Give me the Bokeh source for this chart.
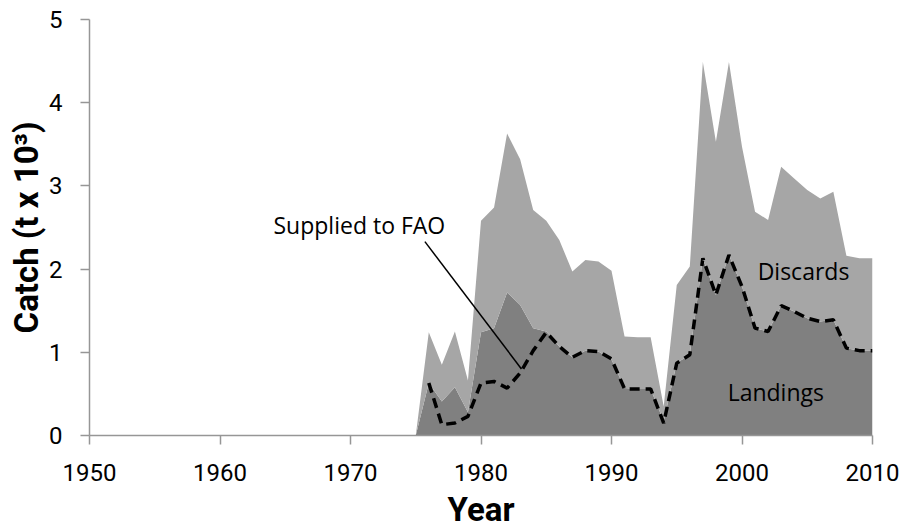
from bokeh.plotting import figure
from bokeh.models import Range1d, FixedTicker, Label, ColumnDataSource
from bokeh.embed import file_html
from bokeh.resources import INLINE

# ---- data (t x 10^3) ----
years = list(range(1975, 2011))
landings = [0.00, 0.63, 0.41, 0.58, 0.28, 1.24, 1.29, 1.72, 1.57, 1.29,
            1.25, 1.07, 0.94, 1.02, 1.01, 0.91, 0.57, 0.56, 0.56, 0.17,
            0.87, 0.97, 2.13, 1.69, 2.17, 1.79, 1.29, 1.25, 1.56, 1.49,
            1.41, 1.37, 1.39, 1.05, 1.02, 1.02]
discards = [0.00, 0.61, 0.44, 0.67, 0.38, 1.34, 1.45, 1.91, 1.75, 1.42,
            1.33, 1.28, 1.03, 1.09, 1.08, 1.07, 0.62, 0.62, 0.62, 0.18,
            0.94, 1.06, 2.36, 1.84, 2.32, 1.68, 1.40, 1.34, 1.67, 1.60,
            1.54, 1.48, 1.54, 1.11, 1.11, 1.11]
fao_years = list(range(1976, 2011))
fao = [0.63, 0.13, 0.15, 0.23, 0.63, 0.65, 0.57, 0.75, 1.02, 1.24,
       1.07, 0.94, 1.02, 1.01, 0.92, 0.56, 0.56, 0.56, 0.15, 0.87,
       0.97, 2.13, 1.69, 2.17, 1.79, 1.29, 1.25, 1.56, 1.49, 1.41,
       1.37, 1.39, 1.05, 1.02, 1.02]
x_ticks = [1950, 1960, 1970, 1980, 1990, 2000, 2010]
y_ticks = [0, 1, 2, 3, 4, 5]

src = ColumnDataSource(dict(year=years, landings=landings, discards=discards))

p = figure(width=900, height=531, output_backend="svg", toolbar_location=None,
           x_range=Range1d(1950, 2010), y_range=Range1d(0, 5),
           min_border_left=89, min_border_right=28, min_border_top=19,
           min_border_bottom=95)

p.varea_stack(["landings", "discards"], x="year", source=src,
              color=["#808080", "#a6a6a6"])
p.line(fao_years, fao, line_color="black", line_width=3.5, line_dash="10 6")

# annotation leader line
p.segment(x0=[1975.7], y0=[2.33], x1=[1983.1], y1=[0.80],
          line_color="black", line_width=1.5)

ann_font = "Open Sans"
for txt, x, y in [("Supplied to FAO", 1964.1, 2.53),
                  ("Discards", 2001.2, 1.975),
                  ("Landings", 1998.9, 0.525)]:
    p.add_layout(Label(x=x, y=y, text=txt, text_font=ann_font,
                       text_font_size="23px", text_color="black",
                       text_align="left", text_baseline="middle"))

p.grid.visible = False
p.outline_line_color = None
p.background_fill_color = "white"
p.border_fill_color = "white"

for ax in (p.xaxis, p.yaxis):
    ax.axis_line_color = "#969696"
    ax.axis_line_width = 1.5
    ax.major_tick_line_color = "#969696"
    ax.major_tick_line_width = 1.5
    ax.major_tick_in = 0
    ax.major_tick_out = 9
    ax.minor_tick_line_color = None
    ax.major_label_text_font = "Roboto"
    ax.major_label_text_font_size = "24px"
    ax.major_label_text_color = "black"
    ax.axis_label_text_font = "Roboto"
    ax.axis_label_text_font_style = "bold"
    ax.axis_label_text_font_size = "33px"
    ax.axis_label_text_color = "black"

p.xaxis.ticker = FixedTicker(ticks=x_ticks)
p.yaxis.ticker = FixedTicker(ticks=y_ticks)
p.xaxis.axis_label = "Year"
p.yaxis.axis_label = "Catch (t x 10³)"
p.xaxis.major_label_standoff = 19
p.yaxis.major_label_standoff = 18
p.xaxis.axis_label_standoff = 6
p.yaxis.axis_label_standoff = 0

open("out.html", "w").write(file_html(p, INLINE))
